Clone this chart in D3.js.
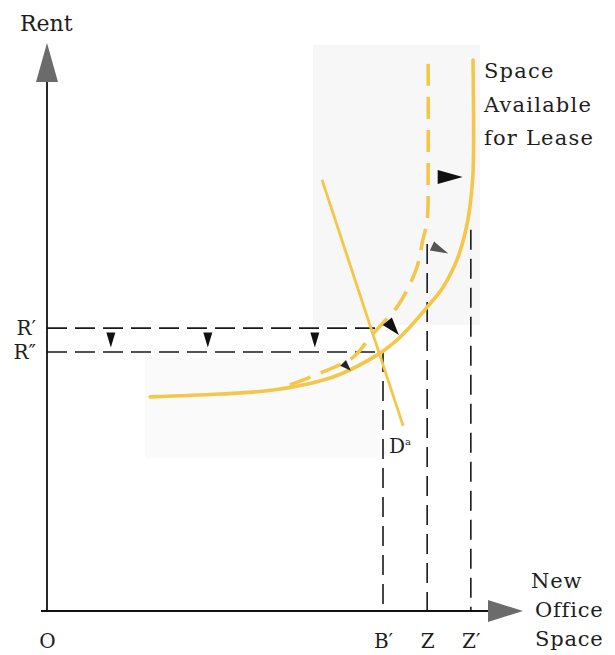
<!DOCTYPE html>
<html><head><meta charset="utf-8">
<script src="https://cdn.jsdelivr.net/npm/d3@7"></script>
<style>body{margin:0;background:#fff}svg{display:block}text{font-family:"DejaVu Serif",serif;fill:#1e1e1e}</style>
</head><body><svg id="c" width="615" height="655"></svg>
<script>
// ---- data (x: 0..100 new office space, y: 0..100 rent) ----
const supplyCurve = [[21.5,37.7],[36.0,38.2],[47.1,38.9],[59.6,41.2],[69.4,45.4],[72.9,47.7],[75.6,50.0],[79.2,53.5],[82.5,57.0],[85.4,61.8],[87.1,66.5],[88.1,71.1],[88.75,77.1],[88.75,97.0]];
const shiftedCurve = [[50.6,39.8],[57.5,42.1],[63.8,44.7],[67.7,48.6],[70.0,50.7],[72.9,53.5],[75.0,56.5],[77.1,60.6],[78.3,65.3],[79.2,68.8],[79.4,77.1],[79.4,97.9]];
const demandLine = [[57.3,75.9],[74.2,32.6]];
const xTicks = [0, 70.0, 79.2, 88.3];
const xTickLabels = ["O", "B\u2032", "Z", "Z\u2032"];
const yTicks = [49.8, 45.6];
const yTickLabels = ["R\u2032", "R\u2033"];
const vGuides = [[70.0, 45.6], [79.2, 64.6], [88.3, 67.1]];   // x, top y
const hGuides = [[49.8, 68.8], [45.6, 70.0]];                 // y, right x
const arrowMarks = [ // x, y, angle(deg), length, half-width, color
  [84.0, 76.4, 0, 25, 7, "#111"],
  [81.9, 63.6, 25, 18, 5, "#555"],
  [72.1, 49.8, 50, 18, 6, "#111"],
  [62.5, 43.0, 45, 11, 4, "#222"],
  [13.3, 47.7, 90, 15, 4.5, "#111"],
  [33.5, 47.7, 90, 15, 4.5, "#111"],
  [55.8, 47.7, 90, 15, 4.5, "#111"]
];
const supplyLabel = ["Space", "Available", "for Lease"];
const xAxisLabel = ["New", "Office", "Space"];

const svg = d3.select("#c");
const x = d3.scaleLinear().domain([0, 100]).range([47, 527]);
const y = d3.scaleLinear().domain([0, 100]).range([611, 43]);
const yellow = "#F4C64A";

// faint scan background patches
svg.append("rect").attr("x", 313).attr("y", 45).attr("width", 167).attr("height", 280).attr("fill", "#f7f7f7");
svg.append("rect").attr("x", 145).attr("y", 358).attr("width", 235).attr("height", 100).attr("fill", "#fafafa");

// guides
vGuides.forEach(([gx, gy]) => svg.append("line").attr("x1", x(gx)).attr("x2", x(gx)).attr("y1", y(gy)).attr("y2", y(0))
  .attr("stroke", "#1a1a1a").attr("stroke-width", 1.6).attr("stroke-dasharray", "20 9"));
hGuides.forEach(([gy, gx]) => svg.append("line").attr("x1", x(0)).attr("x2", x(gx)).attr("y1", y(gy)).attr("y2", y(gy))
  .attr("stroke", "#1a1a1a").attr("stroke-width", 1.6).attr("stroke-dasharray", "20 8"));

// axes lines + arrowheads
svg.append("line").attr("x1", x(0)).attr("x2", x(0)).attr("y1", y(0) + 1).attr("y2", 80).attr("stroke", "#111").attr("stroke-width", 1.8);
svg.append("line").attr("x1", x(0) - 6).attr("x2", 492).attr("y1", y(0)).attr("y2", y(0)).attr("stroke", "#111").attr("stroke-width", 1.8);
svg.append("path").attr("d", `M${x(0)},43 L${x(0) - 11},82 L${x(0) + 11},82 Z`).attr("fill", "#6b6b6b");
svg.append("path").attr("d", `M523,${y(0)} L488,${y(0) - 11} L488,${y(0) + 11} Z`).attr("fill", "#6b6b6b");

// curves
const line = d3.line().x(d => x(d[0])).y(d => y(d[1])).curve(d3.curveCatmullRom.alpha(0.5));
svg.append("path").attr("d", line(supplyCurve)).attr("fill", "none").attr("stroke", yellow).attr("stroke-width", 3.6).attr("stroke-linecap", "round");
svg.append("path").attr("d", line(shiftedCurve)).attr("fill", "none").attr("stroke", yellow).attr("stroke-width", 3.6).attr("stroke-dasharray", "22 11");
svg.append("path").attr("d", d3.line().x(d => x(d[0])).y(d => y(d[1]))(demandLine)).attr("fill", "none").attr("stroke", yellow).attr("stroke-width", 2.8);

// arrows
arrowMarks.forEach(([ax, ay, ang, len, hw, col]) => {
  svg.append("path").attr("d", `M${len / 2},0 L${-len / 2},${-hw} L${-len / 2},${hw} Z`)
    .attr("transform", `translate(${x(ax)},${y(ay)}) rotate(${ang})`).attr("fill", col);
});

// tick labels via axes
const xa = svg.append("g").attr("transform", `translate(0,${y(0)})`)
  .call(d3.axisBottom(x).tickValues(xTicks).tickSize(0).tickPadding(23).tickFormat((d, i) => xTickLabels[i]));
xa.select(".domain").remove();
xa.selectAll("text").attr("font-family", "DejaVu Serif").attr("font-size", 20).attr("fill", "#1e1e1e");
const ya = svg.append("g").attr("transform", `translate(${x(0)},0)`)
  .call(d3.axisLeft(y).tickValues(yTicks).tickSize(0).tickPadding(11).tickFormat((d, i) => yTickLabels[i]));
ya.select(".domain").remove();
ya.selectAll("text").attr("font-family", "DejaVu Serif").attr("font-size", 20).attr("fill", "#1e1e1e");

// labels
svg.append("text").attr("x", 20).attr("y", 31).attr("font-size", 22).text("Rent");
supplyLabel.forEach((t, i) => svg.append("text").attr("x", 484).attr("y", 78 + i * 33.5).attr("font-size", 21).attr("letter-spacing", 1.2).text(t));
xAxisLabel.forEach((t, i) => svg.append("text").attr("x", i === 0 ? 531 : 535).attr("y", 588 + i * 29).attr("font-size", 21).attr("letter-spacing", 0.8).text(t));
const dl = svg.append("text").attr("x", 389).attr("y", 453).attr("font-size", 20).text("D");
dl.append("tspan").attr("font-size", 10).attr("dy", -8).text("a");
</script></body></html>
